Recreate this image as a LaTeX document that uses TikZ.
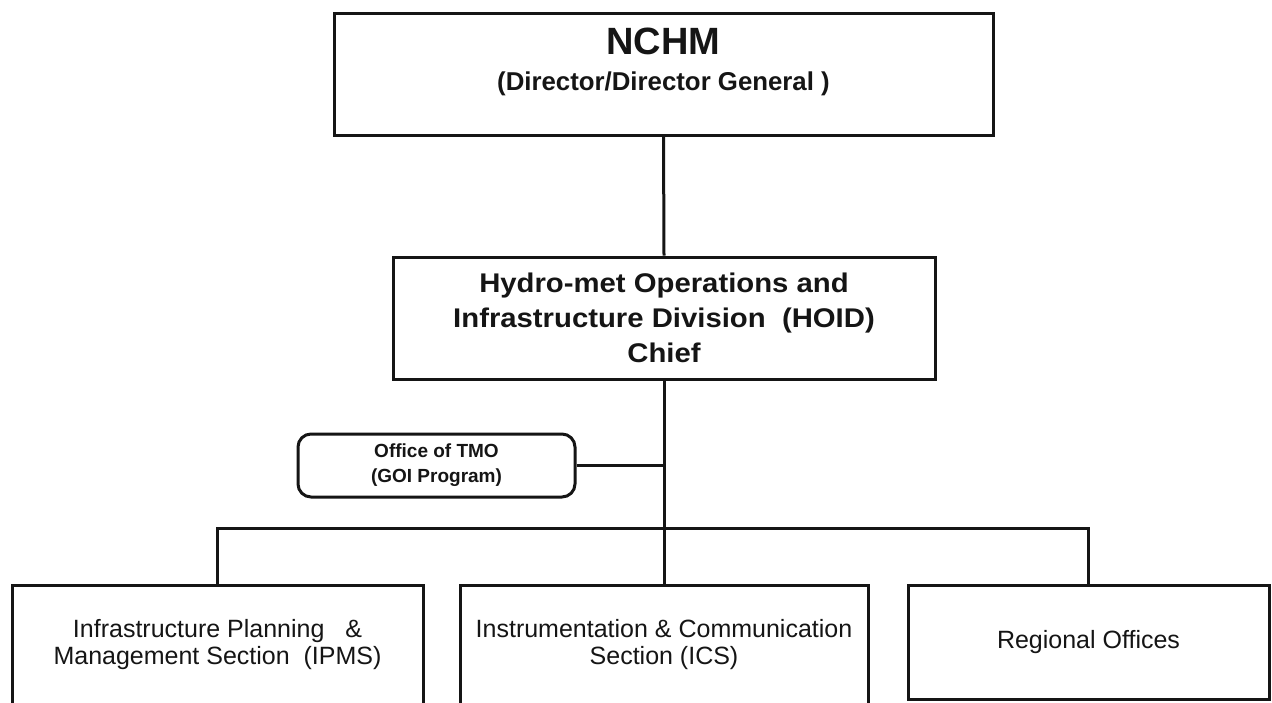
\documentclass[tikz,border=0pt]{standalone}
\usepackage{fontspec}
\setmainfont{Liberation Sans}
\newfontfamily\hoidfont[FakeStretch=1.085]{Liberation Sans}
\definecolor{ink}{HTML}{151515}
\begin{document}
\begin{tikzpicture}[x=1pt,y=-1pt,
  box/.style={draw=ink, line width=3pt, inner sep=0pt, align=center, text=ink},
  txt/.style={inner sep=0pt, align=center, text=ink},
  conn/.style={draw=ink, line width=3pt}]
\useasboundingbox (0,0) rectangle (1272,702);
\clip (0,0) rectangle (1272,702);
\fill[white] (0,0) rectangle (1272,702);
% top
\node[box, minimum width=659pt, minimum height=122pt] (nchm) at (663.5,74) {};
\node[txt, font=\bfseries\fontsize{38}{44}\selectfont] (nchmt) at (663.5,41) {NCHM};
\node[txt, font=\bfseries\fontsize{25.8}{30}\selectfont] (nchms) at (663.5,84) {(Director/Director General )};
% middle
\node[box, minimum width=542pt, minimum height=122pt,
  font=\hoidfont\bfseries\fontsize{27}{35}\selectfont] (hoid) at (664,318)
  {Hydro-met Operations and\\Infrastructure Division \ (HOID)\\Chief};
% TMO
\node[box, rounded corners=13pt, minimum width=277pt, minimum height=63pt,
  font=\bfseries\fontsize{19}{25}\selectfont] (tmo) at (436.5,465.5)
  {Office of TMO\\(GOI Program)};
% bottom
\node[box, minimum width=411pt, minimum height=160pt] (ipms) at (217.5,665) {};
\node[txt, font=\fontsize{25}{27}\selectfont] (ipmst) at (217.5,645)
  {Infrastructure Planning \ \ \&\\Management Section \ (IPMS)};
\node[box, minimum width=408pt, minimum height=160pt] (ics) at (664,665) {};
\node[txt, font=\fontsize{25}{27}\selectfont] (icst) at (664,645)
  {Instrumentation \& Communication\\Section (ICS)};
\node[box, minimum width=361pt, minimum height=114pt,
  font=\fontsize{25}{27}\selectfont] (reg) at (1088.5,642) {Regional Offices};
% connectors
\coordinate (bus) at (664,528);
\draw[conn] (nchm.south) -- (hoid.north);
\draw[conn] (hoid.south) -- (ics.north);
\draw[conn] (tmo.east) -- (tmo.east -| hoid.south);
\draw[conn] (ipms.north) -- (ipms.north |- bus) -- (reg.north |- bus) -- (reg.north);
\end{tikzpicture}
\end{document}
